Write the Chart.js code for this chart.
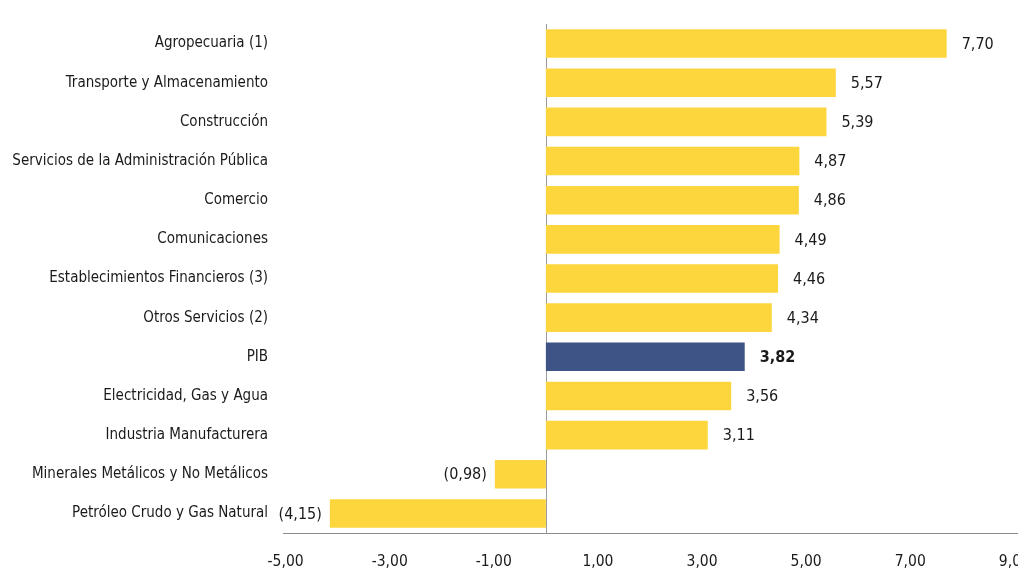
<!DOCTYPE html>
<html>
<head>
<meta charset="utf-8">
<script src="https://cdn.jsdelivr.net/npm/chart.js@4"></script>
<style>
  html, body { margin: 0; padding: 0; background: #ffffff; }
  #wrap { width: 1018px; height: 571px; }
</style>
</head>
<body>
<div id="wrap"><canvas id="chart" width="1018" height="571"></canvas></div>
<script>
// categories, top to bottom
const categories = [
  'Agropecuaria (1)',
  'Transporte y Almacenamiento',
  'Construcción',
  'Servicios de la Administración Pública',
  'Comercio',
  'Comunicaciones',
  'Establecimientos Financieros (3)',
  'Otros Servicios (2)',
  'PIB',
  'Electricidad, Gas y Agua',
  'Industria Manufacturera',
  'Minerales Metálicos y No Metálicos',
  'Petróleo Crudo y Gas Natural'
]
const values = [7.70, 5.57, 5.39, 4.87, 4.86, 4.49, 4.46, 4.34, 3.82, 3.56, 3.11, -0.98, -4.15]
const tickValues = [-5, -3, -1, 1, 3, 5, 7, 9]

const YELLOW = '#fdd63e'
const BLUE = '#3e5487'
const FONT = "'Liberation Sans Narrow', 'Arial Narrow', 'DejaVu Sans Condensed', sans-serif"

function fmt(v) {
  const s = Math.abs(v).toFixed(2).replace('.', ',')
  return v < 0 ? '(' + s + ')' : s
}

// vertical line at zero
const zeroLine = {
  id: 'zeroLine',
  beforeDatasetsDraw(chart) {
    const { ctx, chartArea, scales } = chart
    const x = Math.round(scales.x.getPixelForValue(0)) + 0.5
    ctx.save()
    ctx.strokeStyle = '#9a9a9a'
    ctx.lineWidth = 1
    ctx.beginPath()
    ctx.moveTo(x, chartArea.top)
    ctx.lineTo(x, chartArea.bottom)
    ctx.stroke()
    ctx.restore()
  }
}

// value labels next to the bar ends
const valueLabels = {
  id: 'valueLabels',
  afterDatasetsDraw(chart) {
    const { ctx } = chart
    const meta = chart.getDatasetMeta(0)
    ctx.save()
    ctx.textBaseline = 'middle'
    meta.data.forEach((bar, i) => {
      const v = values[i]
      const bold = categories[i] === 'PIB'
      ctx.font = (bold ? 'bold ' : '') + '16px ' + FONT
      ctx.fillStyle = '#1a1a1a'
      if (v >= 0) {
        ctx.textAlign = 'left'
        ctx.fillText(fmt(v), bar.x + 15, bar.y + 1)
      } else {
        ctx.textAlign = 'right'
        ctx.fillText(fmt(v), bar.x - 8, bar.y + 1)
      }
    })
    ctx.restore()
  }
}

const ctx = document.getElementById('chart').getContext('2d')
const chart = new Chart(ctx, {
  type: 'bar',
  plugins: [zeroLine, valueLabels],
  data: {
    labels: categories,
    datasets: [{
      data: values,
      backgroundColor: categories.map(c => c === 'PIB' ? BLUE : YELLOW),
      borderWidth: 0,
      barPercentage: 0.73,
      categoryPercentage: 1.0
    }]
  },
  options: {
    indexAxis: 'y',
    responsive: false,
    animation: false,
    layout: { padding: { top: 21, right: 0, bottom: 0, left: 0 } },
    plugins: {
      legend: { display: false },
      tooltip: { enabled: false }
    },
    scales: {
      x: {
        min: -5.05,
        max: 9.07,
        afterBuildTicks: scale => {
          scale.ticks = tickValues.map(v => ({ value: v }))
        },
        afterFit: scale => {
          scale.height = 38
          scale.paddingLeft = 0
          scale.paddingRight = 0
        },
        grid: { display: false, drawTicks: false },
        border: { display: true, color: '#8c8c8c', width: 1 },
        ticks: {
          padding: 20,
          maxRotation: 0,
          autoSkip: false,
          color: '#1a1a1a',
          font: { family: FONT, size: 15.5 },
          callback: v => v.toFixed(2).replace('.', ',')
        }
      },
      y: {
        afterFit: scale => { scale.width = 283 },
        grid: { display: false, drawTicks: false },
        border: { display: false },
        ticks: {
          padding: 15,
          autoSkip: false,
          color: '#1a1a1a',
          font: { family: FONT, size: 15 }
        }
      }
    }
  }
})
</script>
</body>
</html>
